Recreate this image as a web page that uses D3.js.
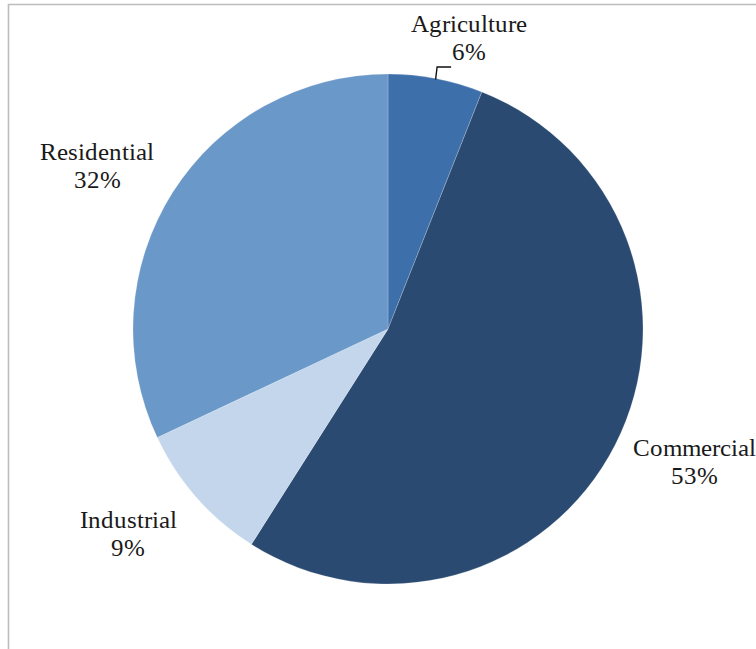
<!DOCTYPE html>
<html>
<head>
<meta charset="utf-8">
<script src="https://cdn.jsdelivr.net/npm/d3@7"></script>
<style>
  @font-face {
    font-family: "LabelSerif";
    src: local("Liberation Serif"), local("LiberationSerif"), local("Tinos"), local("Times New Roman");
    font-weight: normal;
    font-style: normal;
  }
  html, body { margin: 0; padding: 0; background: #fff; }
  svg { display: block; }
  svg text { font-family: "LabelSerif", "Liberation Serif", "Tinos", "Times New Roman", serif; }
</style>
</head>
<body>
<script>
// Share of use by sector (percent)
const categories = ["Agriculture", "Commercial", "Industrial", "Residential"];
const shares = [6, 53, 9, 32];
const colors = ["#3D6FAA", "#2A4A71", "#C3D6EB", "#6A98C9"];

const W = 756, H = 649;
const cx = 388, cy = 329, R = 255;

const svg = d3.select("body").append("svg")
  .attr("width", W).attr("height", H);

// chart area frame
svg.append("path")
  .attr("d", `M8.5,${H + 2} V4.5 H${W + 2}`)
  .attr("fill", "none")
  .attr("stroke", "#bdbdbd")
  .attr("stroke-width", 1.6);

const data = categories.map((c, i) => ({ name: c, value: shares[i], color: colors[i] }));

const pie = d3.pie().value(d => d.value).sort(null);
const arcs = pie(data);
const arc = d3.arc().innerRadius(0).outerRadius(R);

const g = svg.append("g").attr("transform", `translate(${cx},${cy})`);

g.selectAll("path.slice")
  .data(arcs)
  .join("path")
  .attr("class", "slice")
  .attr("d", arc)
  .attr("fill", d => d.data.color)
  .attr("stroke", "rgba(255,255,255,0.35)")
  .attr("stroke-width", 0.6);

// label anchor positions (center x, first baseline), relative to pie center
const labelPos = {
  Agriculture: [81, -297],
  Commercial: [306, 127],
  Industrial: [-260, 199],
  Residential: [-291, -169]
};

const fontSize = 24.5, lineGap = 27.5;

arcs.forEach(a => {
  const [lx, ly] = labelPos[a.data.name];
  const lines = [a.data.name, d3.format(".0f")(a.data.value) + "%"];
  lines.forEach((s, k) => {
    g.append("text")
      .attr("x", lx)
      .attr("y", ly + k * lineGap)
      .attr("text-anchor", "middle")
      .attr("font-size", fontSize)
      .attr("fill", "#1a1a1a")
      .text(s);
  });
});

// leader line for the narrow Agriculture slice
const agr = arcs[0];
const mid = (agr.startAngle + agr.endAngle) / 2;
const p0 = [Math.sin(mid) * (R - 1), -Math.cos(mid) * (R - 1)];
const p1 = [p0[0] + 1.5, -262];
const p2 = [p1[0] + 14, -262];
g.append("path")
  .attr("d", d3.line()([p0, p1, p2]))
  .attr("fill", "none")
  .attr("stroke", "#111")
  .attr("stroke-width", 1.4);
</script>
</body>
</html>
